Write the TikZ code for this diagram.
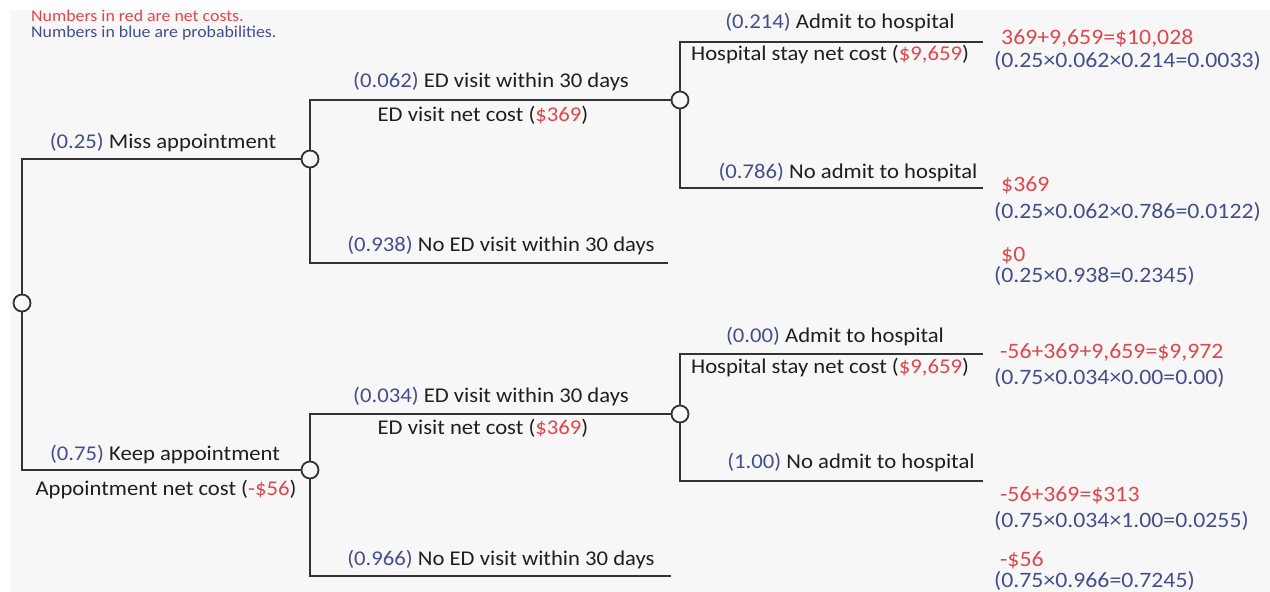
\documentclass[tikz,border=0pt]{standalone}
\usepackage{fontspec}
\setmainfont[FakeStretch=1.08]{Carlito}
\usepackage{xcolor}
\usepackage{tikz}
\usetikzlibrary{positioning}

\definecolor{costred}{HTML}{E0474C}
\definecolor{probblue}{HTML}{454E8C}
\definecolor{treeline}{HTML}{333333}
\definecolor{bggray}{HTML}{F7F7F7}

\newcommand{\prob}[1]{\textcolor{probblue}{#1}}
\newcommand{\cost}[1]{\textcolor{costred}{#1}}

\begin{document}
\begin{tikzpicture}[
    x=1pt, y=-1pt,
    chance/.style={circle, draw=treeline, line width=1.8pt, fill=bggray, minimum size=17pt, inner sep=0pt},
    branch/.style={draw=treeline, line width=2pt},
    lbl/.style={font=\fontsize{21}{24}\selectfont, text=black!88, inner sep=0pt},
    outcome/.style={font=\fontsize{22}{25}\selectfont, anchor=west, inner sep=0pt},
    legend/.style={font=\fontsize{16.5}{15.5}\selectfont, anchor=west, align=left, inner sep=0pt}
]
\useasboundingbox (0,0) rectangle (1270,592);
\fill[white] (0,0) rectangle (1270,592);
\fill[bggray] (10,10) rectangle (1270,592);

% Legend
\node[legend] (keys) at (31,25) {\cost{Numbers in red are net costs.}\\\prob{Numbers in blue are probabilities.}};

% Chance nodes
\coordinate (rootc) at (22,303);
\node[chance] (root) at (rootc) {};
\node[chance] (miss) at (310,159) {};
\node[chance] (keep) at (310,470) {};
\node[chance] (edA) at (680,100) {};
\node[chance] (edB) at (680,414) {};

% Branch ends
\coordinate (noedA) at (668,263);
\coordinate (noedB) at (671,576);
\coordinate (admA) at (983,42);
\coordinate (noadmA) at (983,188);
\coordinate (admB) at (983,354);
\coordinate (noadmB) at (983,481);

% Branches
\draw[branch] (root) |- (miss);
\draw[branch] (root) |- (keep);
\draw[branch] (miss) |- (edA);
\draw[branch] (miss) |- (noedA);
\draw[branch] (keep) |- (edB);
\draw[branch] (keep) |- (noedB);
\draw[branch] (edA) |- (admA);
\draw[branch] (edA) |- (noadmA);
\draw[branch] (edB) |- (admB);
\draw[branch] (edB) |- (noadmB);

% Branch labels
\node[lbl] (lmiss) at (163,143) {\prob{(0.25)} Miss appointment};
\node[lbl] (lkeep) at (165,455) {\prob{(0.75)} Keep appointment};
\node[lbl] (lkeepcost) at (166,490) {Appointment net cost (\cost{-\$56})};
\node[lbl] (ledA) at (491,82) {\prob{(0.062)} ED visit within 30 days};
\node[lbl] (ledAcost) at (483,115) {ED visit net cost (\cost{\$369})};
\node[lbl] (lnoedA) at (501,246) {\prob{(0.938)} No ED visit within 30 days};
\node[lbl] (ledB) at (491,397) {\prob{(0.034)} ED visit within 30 days};
\node[lbl] (ledBcost) at (483,428) {ED visit net cost (\cost{\$369})};
\node[lbl] (lnoedB) at (501,560) {\prob{(0.966)} No ED visit within 30 days};
\node[lbl] (ladmA) at (840,23) {\prob{(0.214)} Admit to hospital};
\node[lbl] (lhospA) at (830,55) {Hospital stay net cost (\cost{\$9,659})};
\node[lbl] (lnoadmA) at (848,173) {\prob{(0.786)} No admit to hospital};
\node[lbl] (ladmB) at (835,337) {\prob{(0.00)} Admit to hospital};
\node[lbl] (lhospB) at (830,368) {Hospital stay net cost (\cost{\$9,659})};
\node[lbl] (lnoadmB) at (851,463) {\prob{(1.00)} No admit to hospital};

% Outcomes
\node[outcome] (costA1) at (1001,38) {\cost{369+9,659=\$10,028}};
\node[outcome] (probA1) at (994,61) {\prob{(0.25×0.062×0.214=0.0033)}};
\node[outcome] (costA2) at (1001,185) {\cost{\$369}};
\node[outcome] (probA2) at (994,212) {\prob{(0.25×0.062×0.786=0.0122)}};
\node[outcome] (costA3) at (1001,256) {\cost{\$0}};
\node[outcome] (probA3) at (994,276) {\prob{(0.25×0.938=0.2345)}};
\node[outcome] (costB1) at (1000,352) {\cost{-56+369+9,659=\$9,972}};
\node[outcome] (probB1) at (994,378) {\prob{(0.75×0.034×0.00=0.00)}};
\node[outcome] (costB2) at (1000,495) {\cost{-56+369=\$313}};
\node[outcome] (probB2) at (994,521) {\prob{(0.75×0.034×1.00=0.0255)}};
\node[outcome] (costB3) at (1000,560) {\cost{-\$56}};
\node[outcome] (probB3) at (994,581) {\prob{(0.75×0.966=0.7245)}};
\end{tikzpicture}
\end{document}
